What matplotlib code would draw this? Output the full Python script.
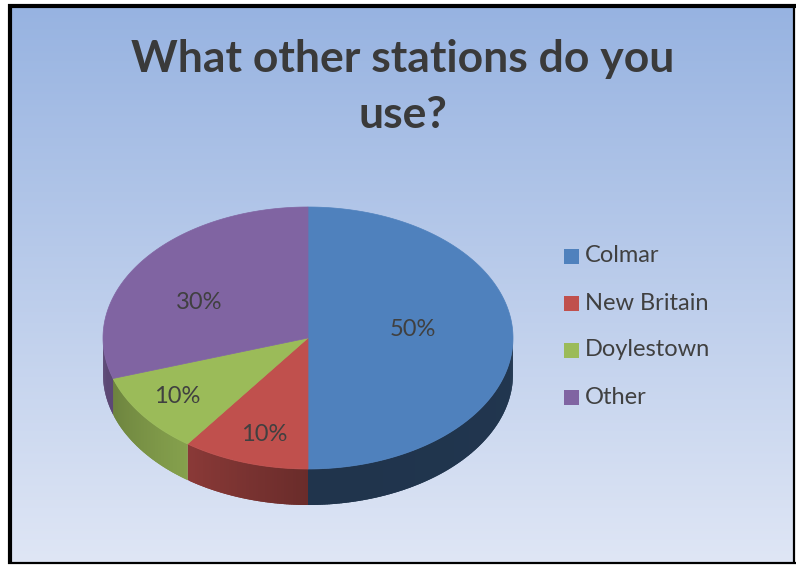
import numpy as np
import matplotlib
matplotlib.use("Agg")
import matplotlib.pyplot as plt
from matplotlib.patches import Polygon, Rectangle
from matplotlib.colors import to_rgb

# ---- data ----
categories = ["Colmar", "New Britain", "Doylestown", "Other"]
shares = [50, 10, 10, 30]
pct_labels = ["50%", "10%", "10%", "30%"]
title_lines = ["What other stations do you", "use?"]

# ---- style ----
colors = ["#4f81bd", "#c0504d", "#9bbb59", "#8064a2"]
side_shade = [(0.40, 0.42), (0.72, 0.55), (0.70, 0.86), (0.72, 0.72)]  # left -> right factor
lab_fx = [0.51, 0.695, 0.79, 0.657]
lab_fy = [0.0, 0.84, 0.87, 0.36]
txt_color = "#404040"
FONT = ["Lato", "DejaVu Sans"]

W, H = 796, 565
fig = plt.figure(figsize=(W / 100, H / 100), dpi=100)
fig.patch.set_facecolor("white")
ax = fig.add_axes([0, 0, 1, 1])
ax.set_xlim(0, W)
ax.set_ylim(H, 0)
ax.axis("off")

# background gradient
g = np.linspace(0, 1, 256)[:, None, None]
c_top = np.array(to_rgb("#97b3e1"))
c_bot = np.array(to_rgb("#dfe6f5"))
img = c_top * (1 - g) + c_bot * g
img = np.repeat(img, 2, axis=1)
ax.imshow(img, extent=(10, 794, 563, 6), aspect="auto", zorder=0, interpolation="bilinear")

# border
ax.plot([10, 10], [4, 564], color="black", lw=3.0, solid_capstyle="butt", zorder=10)
ax.plot([8, 796], [6, 6], color="black", lw=3.0, solid_capstyle="butt", zorder=10)
ax.plot([794, 794], [4, 564], color="black", lw=1.6, solid_capstyle="butt", zorder=10)
ax.plot([8, 796], [563, 563], color="black", lw=1.6, solid_capstyle="butt", zorder=10)

# title
ax.text(403, 72, title_lines[0], ha="center", va="baseline", fontsize=32,
        fontweight="bold", color="#3a3a3a", family=FONT, zorder=5)
ax.text(403, 128, title_lines[1], ha="center", va="baseline", fontsize=32,
        fontweight="bold", color="#3a3a3a", family=FONT, zorder=5)

# ---- 3D pie ----
cx, cy, rx, ry, depth = 308, 338, 205, 131, 36
fr = np.array(shares, dtype=float) / sum(shares)
starts = 90 - 360 * np.concatenate([[0], np.cumsum(fr)[:-1]])
ends = starts - 360 * fr


def pt(t):
    r = np.radians(t)
    return cx + rx * np.cos(r), cy - ry * np.sin(r)


# side walls
for i in range(len(shares)):
    a = max(ends[i], -180.0)
    b = min(starts[i], 0.0)
    if a >= b:
        continue
    base = np.array(to_rgb(colors[i]))
    n = max(int((b - a) * 1.5), 2)
    ts = np.linspace(a, b, n + 1)
    for k in range(n):
        t0 = ts[k]
        t1 = ts[k + 1] if k == n - 1 else min(ts[k + 1] + 0.8, b)
        f = side_shade[i][0] + (side_shade[i][1] - side_shade[i][0]) * ((ts[k] + ts[k + 1]) / 2 - a) / (b - a)
        c = np.clip(base * f, 0, 1)
        tt = np.linspace(t0, t1, 4)
        xs, ys = pt(tt)
        verts = list(zip(xs, ys)) + list(zip(xs[::-1], ys[::-1] + depth))
        ax.add_patch(Polygon(verts, closed=True, fc=c, ec="none", zorder=2))

# top faces
for i in range(len(shares)):
    ts = np.linspace(starts[i], ends[i], 200)
    xs, ys = pt(ts)
    verts = [(cx, cy)] + list(zip(xs, ys))
    ax.add_patch(Polygon(verts, closed=True, fc=colors[i], ec=colors[i], lw=0.5, zorder=3))

# percentage labels
for i in range(len(shares)):
    mid = np.radians((starts[i] + ends[i]) / 2)
    x = cx + lab_fx[i] * rx * np.cos(mid)
    y = cy - 8 - lab_fy[i] * ry * np.sin(mid)
    ax.text(x, y, pct_labels[i], ha="center", va="center", fontsize=17,
            color=txt_color, family=FONT, zorder=6)

# legend
for i, name in enumerate(categories):
    yc = 256 + 47 * i
    ax.add_patch(Rectangle((564, yc - 7.5), 15, 15, fc=colors[i], ec="none", zorder=6))
    ax.text(585, yc, name, ha="left", va="center", fontsize=17, color=txt_color,
            family=FONT, zorder=6)

fig.savefig("out.png", dpi=100)
